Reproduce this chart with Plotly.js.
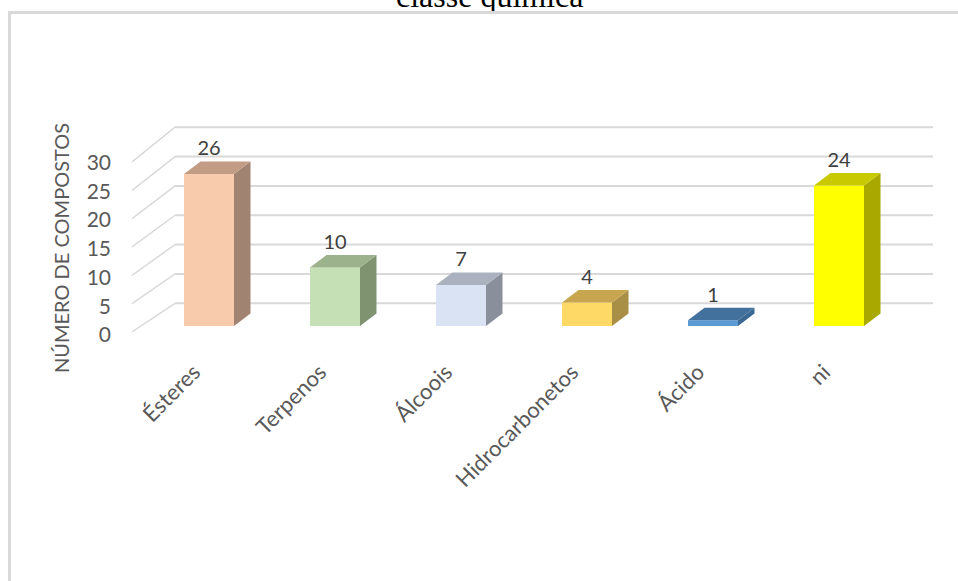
<!DOCTYPE html>
<html>
<head>
<meta charset="utf-8">
<script src="https://cdn.plot.ly/plotly-3.0.1.min.js"></script>
<style>
  html, body { margin: 0; padding: 0; background: #ffffff; }
  #wrap { position: relative; width: 958px; height: 581px; overflow: hidden; }
  #chart { width: 958px; height: 581px; }
  #frame { position: absolute; left: 8px; top: 11px; width: 980px; height: 600px;
           border-left: 3px solid #D9D9D9; border-top: 3px solid #D9D9D9; pointer-events: none; }
</style>
</head>
<body>
<div id="wrap">
  <div id="chart"></div>
  <div id="frame"></div>
</div>
<script>
// ---- data ----
const categories = ['Ésteres', 'Terpenos', 'Álcoois', 'Hidrocarbonetos', 'Ácido', 'ni'];
const values = [26, 10, 7, 4, 1, 24];
const yTicks = [0, 5, 10, 15, 20, 25, 30];
const chartTitle = 'classe química';
const yTitle = 'NÚMERO DE COMPOSTOS';

// ---- styles ----
const frontColors = ['#F8CBAD', '#C5E0B4', '#DAE3F3', '#FFD966', '#5B9BD5', '#FFFF00'];
const topColors   = ['#C29C84', '#9BB28C', '#AAB1BF', '#C8A64F', '#41719C', '#C9C900'];
const sideColors  = ['#A08371', '#7F9371', '#8A909B', '#A98E45', '#3A6893', '#A8A800'];
const FONT = 'Lato, Carlito, Calibri, sans-serif';

// ---- geometry (pixel mapping of the pseudo-3D scene) ----
const W = 958, H = 581;
const plotL = 132, plotR = 933, plotT = 100, plotB = 346;
const BAR   = { base: 326,   step: 5.85 };   // bar front plane
const FRONT = { base: 332,   step: 5.667 };  // front edge of the grid
const BACK  = { base: 303.3, step: 5.87 };   // back wall
const LABEL = { base: 335,   step: 5.75 };   // tick labels
const catStep = 126, firstCenter = 209;
const barWidth = 50 / catStep;
const depthX = 16.5 / catStep;
const depthY = 12.5 / BAR.step;

const xRange = [(plotL - firstCenter) / catStep, (plotR - firstCenter) / catStep];
const yRange = [(BAR.base - plotB) / BAR.step, (BAR.base - plotT) / BAR.step];
const y2Range = [(LABEL.base - plotB) / LABEL.step, (LABEL.base - plotT) / LABEL.step];
const toBarU = (pix) => (BAR.base - pix) / BAR.step;
const xBackStart = (175 - firstCenter) / catStep;

// ---- grid (back wall + front diagonals) ----
const shapes = [];
yTicks.forEach(v => {
  const yf = toBarU(FRONT.base - FRONT.step * v);
  const yb = toBarU(BACK.base - BACK.step * v);
  shapes.push({ type: 'line', layer: 'below', xref: 'x', yref: 'y',
    x0: xRange[0], y0: yf, x1: xBackStart, y1: yb, line: { color: '#D9D9D9', width: 1.5 } });
  shapes.push({ type: 'line', layer: 'below', xref: 'x', yref: 'y',
    x0: xBackStart, y0: yb, x1: xRange[1], y1: yb, line: { color: '#D9D9D9', width: 2 } });
});

// ---- traces ----
const idx = categories.map((_, i) => i);
const traces = [];

// front faces
traces.push({
  type: 'bar', x: idx, y: values, width: barWidth,
  marker: { color: frontColors, line: { width: 0 } },
  hoverinfo: 'skip', showlegend: false
});

// side and top faces
values.forEach((v, i) => {
  const r = i + barWidth / 2, l = i - barWidth / 2;
  traces.push({
    type: 'scatter', mode: 'lines', fill: 'toself', fillcolor: sideColors[i],
    line: { width: 0, color: sideColors[i] },
    x: [r, r + depthX, r + depthX, r, r],
    y: [0, depthY, v + depthY, v, 0],
    hoverinfo: 'skip', showlegend: false
  });
  traces.push({
    type: 'scatter', mode: 'lines', fill: 'toself', fillcolor: topColors[i],
    line: { width: 0, color: topColors[i] },
    x: [l, l + depthX, r + depthX, r, l],
    y: [v, v + depthY, v + depthY, v, v],
    hoverinfo: 'skip', showlegend: false
  });
});

// value labels
traces.push({
  type: 'scatter', mode: 'text', x: idx,
  y: values.map(v => v + depthY + 1.9),
  text: values.map(String), textposition: 'middle center',
  textfont: { family: FONT, size: 20, color: '#404040' },
  cliponaxis: false, hoverinfo: 'skip', showlegend: false
});

// invisible trace to activate the tick-label axis
traces.push({
  type: 'scatter', mode: 'markers', x: [xRange[0]], y: [0], yaxis: 'y2',
  marker: { opacity: 0, size: 1 }, hoverinfo: 'skip', showlegend: false
});

const layout = {
  width: W, height: H,
  margin: { l: plotL, r: W - plotR, t: plotT, b: H - plotB },
  paper_bgcolor: '#ffffff', plot_bgcolor: 'rgba(0,0,0,0)',
  showlegend: false,
  xaxis: {
    range: xRange, tickmode: 'array', tickvals: idx, ticktext: categories,
    tickangle: -45, showgrid: false, zeroline: false, showline: false, ticks: '',
    ticklabelshift: -15, ticklabelstandoff: 8,
    tickfont: { family: FONT, size: 22, color: '#595959' }, fixedrange: true
  },
  yaxis: {
    range: yRange, showgrid: false, zeroline: false, showline: false,
    showticklabels: false, ticks: '', fixedrange: true
  },
  yaxis2: {
    overlaying: 'y', side: 'left', range: y2Range, tickmode: 'array', tickvals: yTicks,
    showgrid: false, zeroline: false, showline: false, ticks: '',
    ticklabelstandoff: 20,
    tickfont: { family: FONT, size: 21, color: '#595959' }, fixedrange: true
  },
  shapes: shapes,
  annotations: [
    { text: chartTitle, xref: 'paper', yref: 'paper',
      x: (489 - plotL) / (plotR - plotL), y: (plotB - 16) / (plotB - plotT),
      xanchor: 'center', yanchor: 'bottom', showarrow: false,
      font: { family: '"Liberation Serif", "Times New Roman", serif', size: 32, color: '#000000' } },
    { text: yTitle, xref: 'paper', yref: 'paper',
      x: (60.5 - plotL) / (plotR - plotL), y: (plotB - 248.5) / (plotB - plotT),
      xanchor: 'center', yanchor: 'middle', textangle: -90, showarrow: false,
      font: { family: FONT, size: 20, color: '#595959' } }
  ]
};

Plotly.newPlot('chart', traces, layout, { displayModeBar: false, staticPlot: true });
</script>
</body>
</html>
